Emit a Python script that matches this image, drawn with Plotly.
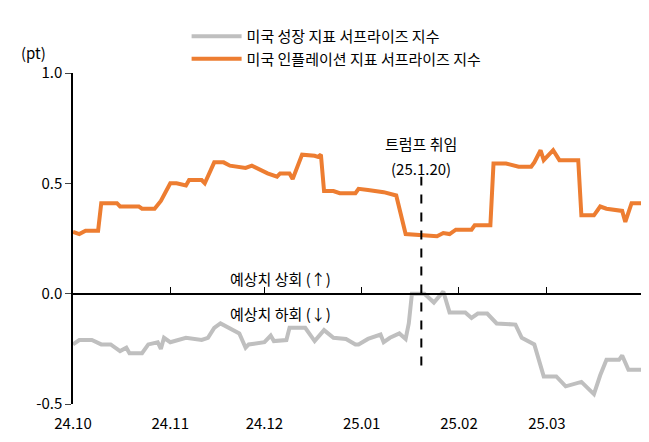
import pandas as pd
import plotly.graph_objects as go

start = pd.Timestamp("2024-10-01")

# 미국 인플레이션 지표 서프라이즈 지수 (days since 2024-10-01, value)
infl_days = [0, 2, 4, 8, 9, 14, 15, 21, 22, 26, 28, 31, 33, 36, 37, 41, 42, 45, 48, 50,
             55, 57, 62, 65, 66, 69, 70, 73, 77, 78, 79, 80, 83, 85, 90, 91, 94, 99, 103,
             106, 116, 118, 120, 122, 127, 128, 133, 134, 138, 142, 146, 147, 149, 150,
             153, 155, 161, 162, 166, 168, 170, 175, 176, 178, 181]
infl_vals = [0.28, 0.27, 0.285, 0.285, 0.41, 0.41, 0.395, 0.395, 0.385, 0.385, 0.42, 0.50,
             0.50, 0.49, 0.515, 0.515, 0.50, 0.595, 0.595, 0.58, 0.57, 0.58, 0.545, 0.53,
             0.545, 0.545, 0.52, 0.63, 0.625, 0.62, 0.63, 0.465, 0.465, 0.455, 0.455, 0.475,
             0.47, 0.46, 0.445, 0.27, 0.26, 0.275, 0.27, 0.29, 0.29, 0.31, 0.31, 0.59, 0.59,
             0.575, 0.575, 0.595, 0.65, 0.605, 0.65, 0.605, 0.605, 0.355, 0.355, 0.395,
             0.385, 0.375, 0.325, 0.41, 0.41]

# 미국 성장 지표 서프라이즈 지수
grow_days = [0, 2, 6, 9, 12, 15, 17, 18, 22, 24, 27, 28, 29, 31, 36, 41, 43, 45, 47, 50,
             53, 55, 56, 61, 63, 64, 68, 69, 74, 77, 80, 83, 87, 90, 91, 94, 98, 99, 101,
             104, 106, 107, 108, 112, 115, 118, 120, 125, 127, 129, 132, 135, 141, 143,
             147, 150, 154, 157, 162, 166, 168, 170, 174, 175, 177, 181]
grow_vals = [-0.23, -0.21, -0.21, -0.23, -0.23, -0.26, -0.245, -0.27, -0.27, -0.23, -0.22,
             -0.25, -0.20, -0.22, -0.20, -0.21, -0.20, -0.155, -0.135, -0.16, -0.18, -0.245,
             -0.23, -0.22, -0.19, -0.215, -0.21, -0.155, -0.155, -0.215, -0.165, -0.20,
             -0.205, -0.23, -0.23, -0.205, -0.185, -0.22, -0.20, -0.18, -0.205, -0.135,
             0.0, 0.0, -0.04, 0.01, -0.085, -0.085, -0.11, -0.09, -0.09, -0.135, -0.14,
             -0.20, -0.23, -0.375, -0.375, -0.42, -0.40, -0.455, -0.37, -0.30, -0.30,
             -0.28, -0.345, -0.345]

tick_dates = ["2024-10-01", "2024-11-01", "2024-12-01", "2025-01-01", "2025-02-01", "2025-03-01"]
tick_text = ["24.10", "24.11", "24.12", "25.01", "25.02", "25.03"]
inaug = "2025-01-20"

infl_x = [start + pd.Timedelta(days=d) for d in infl_days]
grow_x = [start + pd.Timedelta(days=d) for d in grow_days]

font = "Noto Sans CJK KR"
fig = go.Figure()
fig.add_trace(go.Scatter(x=grow_x, y=grow_vals, mode="lines", name="미국 성장 지표 서프라이즈 지수",
                         line=dict(color="#BFBFBF", width=4)))
fig.add_trace(go.Scatter(x=infl_x, y=infl_vals, mode="lines", name="미국 인플레이션 지표 서프라이즈 지수",
                         line=dict(color="#ED7D31", width=4)))
# zero axis carrier
fig.add_trace(go.Scatter(x=[infl_x[0]], y=[0], xaxis="x2", mode="lines", showlegend=False,
                         hoverinfo="skip", line=dict(width=0)))
fig.add_shape(type="line", x0=inaug, x1=inaug, y0=-0.325, y1=0.53,
              line=dict(color="black", width=2, dash="dash"))

x_end = start + pd.Timedelta(days=181)
fig.update_layout(
    width=649, height=442, plot_bgcolor="white", paper_bgcolor="white",
    margin=dict(l=65, r=16, t=53, b=46),
    font=dict(family=font, size=15, color="black"),
    legend=dict(x=0.2, y=1.16, xanchor="left", yanchor="top", bgcolor="rgba(0,0,0,0)",
                font=dict(size=15), tracegroupgap=0, itemwidth=50),
    xaxis=dict(range=[start, x_end], tickvals=tick_dates, ticktext=tick_text,
               showline=False, showgrid=False, ticks="outside", ticklen=6,
               tickcolor="rgba(0,0,0,0)", zeroline=False, tickfont=dict(size=15)),
    xaxis2=dict(overlaying="x", matches="x", anchor="free", position=1/3,
                showline=True, linecolor="black", linewidth=1.5, ticks="inside",
                ticklen=6, tickcolor="black", tickvals=tick_dates + [x_end],
                showticklabels=False, showgrid=False, zeroline=False),
    yaxis=dict(range=[-0.5, 1.0], tickvals=[-0.5, 0, 0.5, 1.0],
               ticktext=["-0.5", "0.0", "0.5", "1.0"], showline=True, linecolor="black",
               linewidth=1.5, ticks="outside", ticklen=6, showgrid=False, zeroline=False,
               tickfont=dict(size=15)),
    annotations=[
        dict(xref="paper", yref="paper", x=-0.07, y=1.1, text="(pt)", showarrow=False,
             xanchor="center", font=dict(size=15)),
        dict(x=inaug, y=0.68, text="트럼프 취임", showarrow=False, font=dict(size=15)),
        dict(x=inaug, y=0.565, text="(25.1.20)", showarrow=False, font=dict(size=15)),
        dict(x="2024-12-06", y=0.07, text="예상치 상회 (↑)", showarrow=False, font=dict(size=15)),
        dict(x="2024-12-06", y=-0.09, text="예상치 하회 (↓)", showarrow=False, font=dict(size=15)),
    ],
)
fig.write_html("out.html")
